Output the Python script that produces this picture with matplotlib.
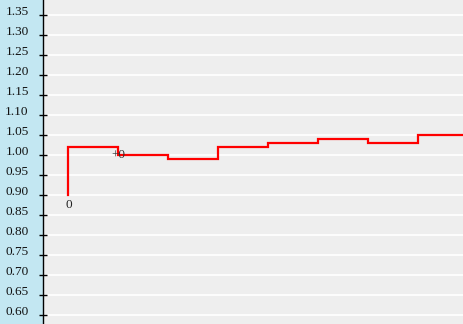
import matplotlib
matplotlib.use('Agg')
import matplotlib.pyplot as plt

# step values, one per 50px column
positions = [0, 1, 2, 3, 4, 5, 6, 7, 8]
values = [0.90, 1.02, 1.00, 0.99, 1.02, 1.03, 1.04, 1.03, 1.05]
y_ticks = [0.60, 0.65, 0.70, 0.75, 0.80, 0.85, 0.90, 0.95, 1.00,
           1.05, 1.10, 1.15, 1.20, 1.25, 1.30, 1.35]
point_labels = [(0, 0.90, '0', 'below'), (1, 1.00, '+0', 'center')]

W, H, dpi = 463, 324, 100
fig = plt.figure(figsize=(W / dpi, H / dpi), dpi=dpi)
fig.patch.set_facecolor('#c3e7f2')

left = 43
ax = fig.add_axes([left / W, 0, (W - left) / W, 1])
ax.set_facecolor('#eeeeee')

ax.set_xlim(-0.5, -0.5 + (W - left) / 50)
ax.set_ylim(0.5775, 1.3875)

for v in y_ticks:
    ax.axhline(v, color='white', linewidth=1.2, zorder=1)

ax.plot(positions, values, drawstyle='steps-pre', color='#ff0000',
        linewidth=1.6, zorder=3, solid_joinstyle='miter')

for x, y, txt, where in point_labels:
    if where == 'below':
        ax.annotate(txt, (x, y), xytext=(1, -4), textcoords='offset pixels',
                    ha='center', va='top', fontsize=9.5,
                    family='Liberation Serif', color='#222222', zorder=4)
    else:
        ax.annotate(txt, (x, y), ha='center', va='center', fontsize=9.5,
                    family='Liberation Serif', color='#333333', zorder=4)

ax.set_yticks(y_ticks)
ax.set_yticklabels([f'{v:.2f}' for v in y_ticks], family='Liberation Serif',
                   fontsize=9.5, color='#111111')
for lab in ax.get_yticklabels():
    lab.set_va('baseline')
ax.tick_params(axis='y', direction='inout', length=6, width=1, pad=7.3,
               color='black')
ax.set_xticks([])

for side in ('top', 'right', 'bottom'):
    ax.spines[side].set_visible(False)
ax.spines['left'].set_color('black')
ax.spines['left'].set_linewidth(1)

fig.savefig('out.png', dpi=dpi, facecolor=fig.get_facecolor())
